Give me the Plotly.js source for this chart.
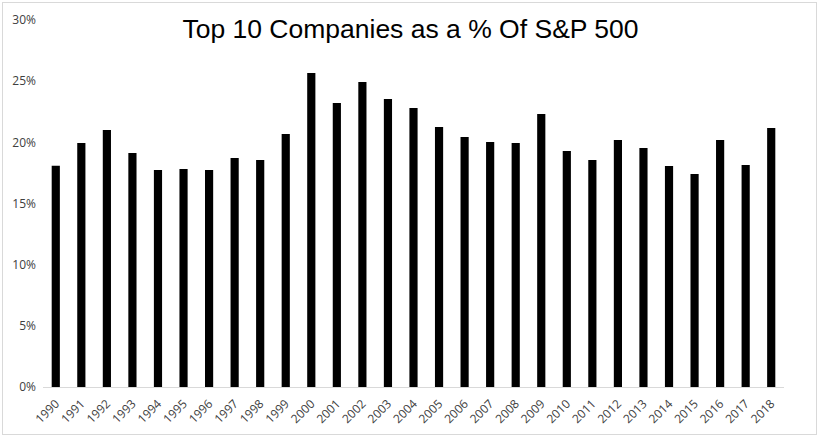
<!DOCTYPE html>
<html>
<head>
<meta charset="utf-8">
<script src="https://cdn.plot.ly/plotly-3.0.1.min.js"></script>
<style>
  html, body { margin: 0; padding: 0; background: #fff; }
  #wrap { position: relative; width: 821px; height: 441px; }
  #chart { width: 821px; height: 441px; }
  #frame { position: absolute; left: 2px; top: 2px; width: 813px; height: 431px; border: 1px solid #d9d9d9; pointer-events: none; }
</style>
</head>
<body>
<div id="wrap">
  <div id="chart"></div>
  <div id="frame"></div>
</div>
<script>
const years = ["1990","1991","1992","1993","1994","1995","1996","1997","1998","1999",
  "2000","2001","2002","2003","2004","2005","2006","2007","2008","2009",
  "2010","2011","2012","2013","2014","2015","2016","2017","2018"];
const top10Share = [0.1808, 0.1994, 0.2100, 0.1912, 0.1773, 0.1781, 0.1773, 0.1871, 0.1855, 0.2068,
  0.2567, 0.2322, 0.2493, 0.2354, 0.2281, 0.2125, 0.2043, 0.2002, 0.1994, 0.2232,
  0.1929, 0.1855, 0.2019, 0.1953, 0.1806, 0.1741, 0.2019, 0.1814, 0.2117];
const yTickVals = [0, 0.05, 0.10, 0.15, 0.20, 0.25, 0.30];
const yTickText = ["0%", "5%", "10%", "15%", "20%", "25%", "30%"];
const chartTitle = "Top 10 Companies as a % Of S&P 500";

const trace = {
  type: "bar",
  x: years,
  y: top10Share,
  marker: { color: "#000000", line: { width: 0 } },
  width: 0.32,
  hoverinfo: "x+y"
};

const layout = {
  width: 821,
  height: 441,
  margin: { l: 43, r: 37, t: 20, b: 54 },
  paper_bgcolor: "#ffffff",
  plot_bgcolor: "#ffffff",
  showlegend: false,
  title: {
    text: chartTitle,
    font: { family: "Liberation Sans, Arial, sans-serif", size: 26.5, color: "#000000" },
    x: 0.5, xanchor: "center",
    y: 0.935, yanchor: "middle",
    yref: "container"
  },
  xaxis: {
    type: "category",
    range: [-0.5, 28.5],
    showgrid: false,
    zeroline: false,
    showline: true,
    linecolor: "#d9d9d9",
    linewidth: 1,
    ticks: "",
    tickangle: -45,
    ticklabelstandoff: 4,
    tickfont: { family: "Open Sans, DejaVu Sans, sans-serif", size: 12, color: "#404040" },
    fixedrange: true
  },
  yaxis: {
    range: [0, 0.30],
    tickvals: yTickVals,
    ticktext: yTickText,
    showgrid: false,
    zeroline: false,
    showline: false,
    ticks: "",
    tickfont: { family: "Open Sans, DejaVu Sans, sans-serif", size: 12, color: "#404040" },
    ticklabelstandoff: 6,
    fixedrange: true
  }
};

Plotly.newPlot("chart", [trace], layout, { displayModeBar: false, staticPlot: true });
</script>
</body>
</html>
